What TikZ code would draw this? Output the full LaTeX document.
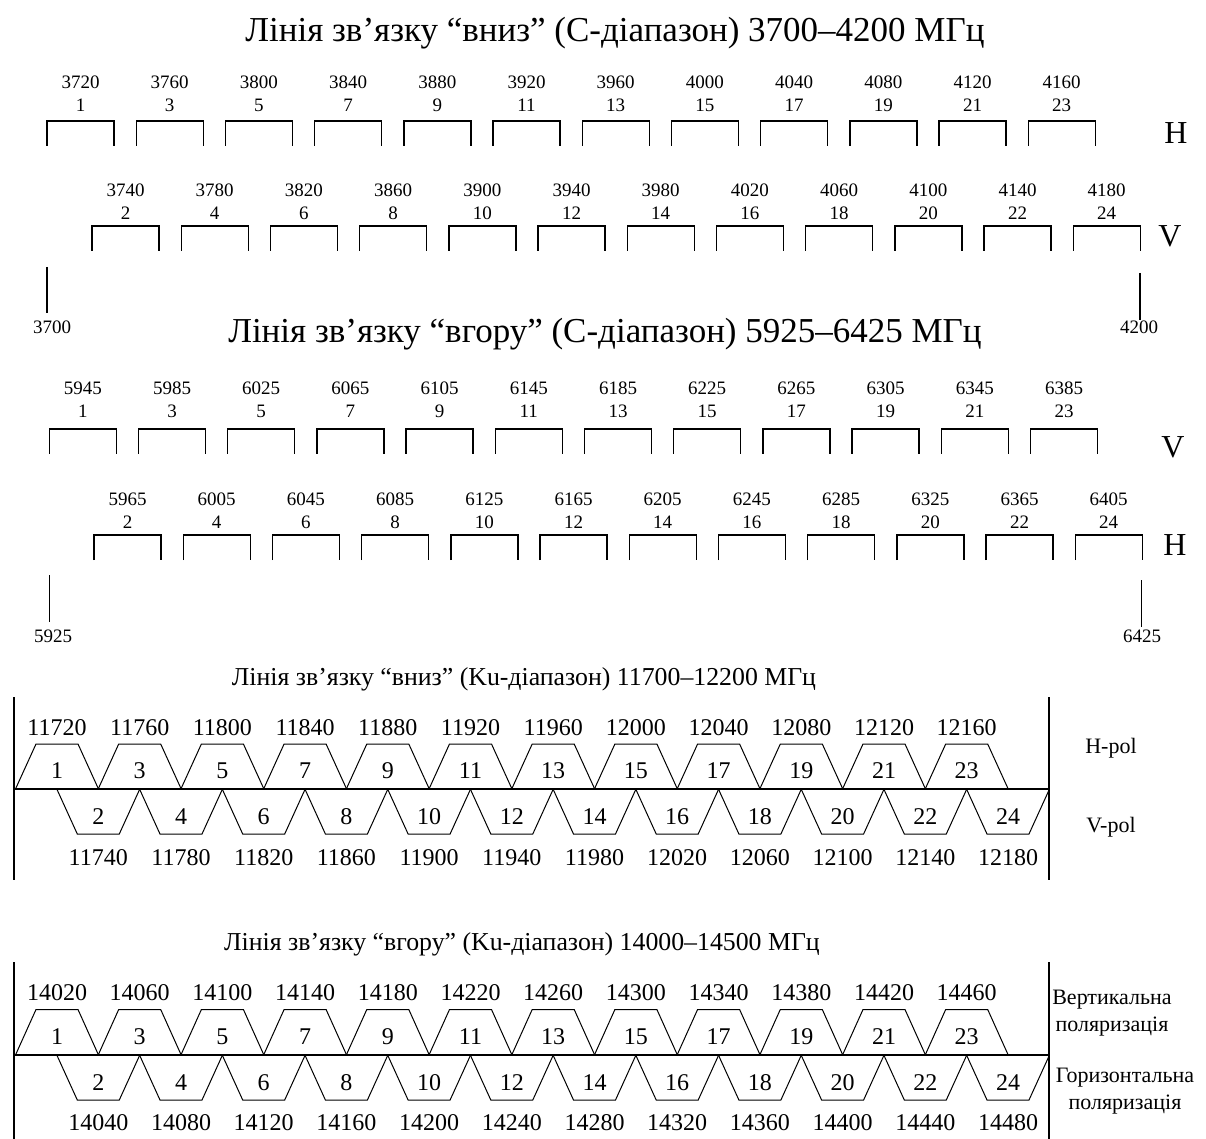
\documentclass[tikz,border=0pt]{standalone}
\usepackage{fontspec}
\setmainfont{Liberation Serif}
\tikzset{
    chan/.style={line width=0.7pt},
    trap/.style={line width=0.5pt},
    frame/.style={line width=1pt},
    axisline/.style={line width=1.3pt},
    cnum/.style={font=\fontsize{9.5}{11}\selectfont, inner sep=0pt},
    cpol/.style={font=\fontsize{16}{19}\selectfont, inner sep=0pt},
    ctitle/.style={font=\fontsize{17.5}{21}\selectfont, inner sep=0pt, anchor=base},
    knum/.style={font=\fontsize{12}{14}\selectfont, inner sep=0pt},
    ktitle/.style={font=\fontsize{12.9}{15}\selectfont, inner sep=0pt, anchor=base},
    kpol/.style={font=\fontsize{11}{13.5}\selectfont, inner sep=0pt, align=center}
}
\begin{document}
\begin{tikzpicture}[x=0.5pt, y=-0.5pt]
    \useasboundingbox (0,0) rectangle (1206,1139);

    % C-band downlink
    \node[ctitle] (tdown) at (615,42) {Лінія зв’язку “вниз” (С-діапазон) 3700–4200 МГц};
    \foreach \j [evaluate=\j as \xa using 47+89.2*\j,
                 evaluate=\j as \xb using 92+89.2*\j,
                 evaluate=\j as \k using int(2*\j+1),
                 evaluate=\j as \m using int(2*\j+2),
                 evaluate=\j as \fa using int(3720+40*\j),
                 evaluate=\j as \fb using int(3740+40*\j)] in {0,...,11} {
        \draw[chan] (\xa,146) -- (\xa,121) -- (\xa+67,121) -- (\xa+67,146);
        \node[cnum] (dhf\k) at (\xa+33.5,82) {\fa};
        \node[cnum] (dhn\k) at (\xa+33.5,105) {\k};
        \draw[chan] (\xb,251) -- (\xb,226) -- (\xb+67,226) -- (\xb+67,251);
        \node[cnum] (dvf\m) at (\xb+33.5,190) {\fb};
        \node[cnum] (dvn\m) at (\xb+33.5,213) {\m};
    }
    \node[cpol] (dH) at (1176,133) {H};
    \node[cpol] (dV) at (1170,236) {V};

    % Band edges
    \coordinate (d0) at (47,267);
    \coordinate (d1) at (1140,273);
    \draw[chan] (d0) -- ++(0,46);
    \draw[chan] (d1) -- ++(0,47);
    \node[cnum] (dlo) at (52,327) {3700};
    \node[cnum] (dhi) at (1139,327) {4200};

    % C-band uplink
    \node[ctitle] (tup) at (605,343) {Лінія зв’язку “вгору” (С-діапазон) 5925–6425 МГц};
    \foreach \j [evaluate=\j as \xa using 49.3+89.2*\j,
                 evaluate=\j as \xb using 94+89.2*\j,
                 evaluate=\j as \k using int(2*\j+1),
                 evaluate=\j as \m using int(2*\j+2),
                 evaluate=\j as \fa using int(5945+40*\j),
                 evaluate=\j as \fb using int(5965+40*\j)] in {0,...,11} {
        \draw[chan] (\xa,454) -- (\xa,429) -- (\xa+67,429) -- (\xa+67,454);
        \node[cnum] (uvf\k) at (\xa+33.5,388) {\fa};
        \node[cnum] (uvn\k) at (\xa+33.5,411) {\k};
        \draw[chan] (\xb,560) -- (\xb,535) -- (\xb+67,535) -- (\xb+67,560);
        \node[cnum] (uhf\m) at (\xb+33.5,499) {\fb};
        \node[cnum] (uhn\m) at (\xb+33.5,522) {\m};
    }
    \node[cpol] (uV) at (1173,447) {V};
    \node[cpol] (uH) at (1175,545) {H};

    \coordinate (u0) at (49.3,575);
    \coordinate (u1) at (1141.7,580);
    \draw[chan] (u0) -- ++(0,47);
    \draw[chan] (u1) -- ++(0,47);
    \node[cnum] (ulo) at (53,636) {5925};
    \node[cnum] (uhi) at (1142,636) {6425};

    % Ku-band downlink
    \node[ktitle] (kdown) at (524,685) {Лінія зв’язку “вниз” (Ku-діапазон) 11700–12200 МГц};
    \coordinate (kdA) at (14.3,697);
    \coordinate (kdB) at (14.3,880);
    \coordinate (kdC) at (1049.3,697);
    \coordinate (kdD) at (1049.3,880);
    \coordinate (kdL) at (14.3,789);
    \coordinate (kdR) at (1049.3,789);
    \draw[frame] (kdA) -- (kdB);
    \draw[frame] (kdC) -- (kdD);
    \draw[axisline] (kdL) -- (kdR);
    \foreach \j [evaluate=\j as \xa using 15.5+82.7*\j,
                 evaluate=\j as \xb using 56.8+82.7*\j,
                 evaluate=\j as \k using int(2*\j+1),
                 evaluate=\j as \m using int(2*\j+2),
                 evaluate=\j as \fa using int(11720+40*\j),
                 evaluate=\j as \fb using int(11740+40*\j)] in {0,...,11} {
        \draw[trap] (\xa,789) -- (\xa+20.5,744) -- (\xa+62.5,744) -- (\xa+83,789);
        \node[knum] (kdn\k) at (\xa+41.5,771) {\k};
        \node[knum] (kdf\k) at (\xa+41.5,728) {\fa};
        \draw[trap] (\xb,789) -- (\xb+20.5,834) -- (\xb+62.5,834) -- (\xb+83,789);
        \node[knum] (kdn\m) at (\xb+41.5,817) {\m};
        \node[knum] (kdf\m) at (\xb+41.5,858) {\fb};
    }
    \node[kpol] (kdH) at (1111,748) {H-pol};
    \node[kpol] (kdV) at (1111,827) {V-pol};

    % Ku-band uplink
    \node[ktitle] (kup) at (522,950) {Лінія зв’язку “вгору” (Ku-діапазон) 14000–14500 МГц};
    \coordinate (kuA) at (14.3,962);
    \coordinate (kuB) at (14.3,1139);
    \coordinate (kuC) at (1049.3,962);
    \coordinate (kuD) at (1049.3,1139);
    \coordinate (kuL) at (14.3,1055);
    \coordinate (kuR) at (1049.3,1055);
    \draw[frame] (kuA) -- (kuB);
    \draw[frame] (kuC) -- (kuD);
    \draw[axisline] (kuL) -- (kuR);
    \foreach \j [evaluate=\j as \xa using 15.5+82.7*\j,
                 evaluate=\j as \xb using 56.8+82.7*\j,
                 evaluate=\j as \k using int(2*\j+1),
                 evaluate=\j as \m using int(2*\j+2),
                 evaluate=\j as \fa using int(14020+40*\j),
                 evaluate=\j as \fb using int(14040+40*\j)] in {0,...,11} {
        \draw[trap] (\xa,1055) -- (\xa+20.5,1009.5) -- (\xa+62.5,1009.5) -- (\xa+83,1055);
        \node[knum] (kun\k) at (\xa+41.5,1037) {\k};
        \node[knum] (kuf\k) at (\xa+41.5,993) {\fa};
        \draw[trap] (\xb,1055) -- (\xb+20.5,1100) -- (\xb+62.5,1100) -- (\xb+83,1055);
        \node[knum] (kun\m) at (\xb+41.5,1083) {\m};
        \node[knum] (kuf\m) at (\xb+41.5,1123) {\fb};
    }
    \node[kpol] (kuV) at (1112,1013) {Вертикальна\\поляризація};
    \node[kpol] (kuG) at (1125,1091) {Горизонтальна\\поляризація};
\end{tikzpicture}
\end{document}
